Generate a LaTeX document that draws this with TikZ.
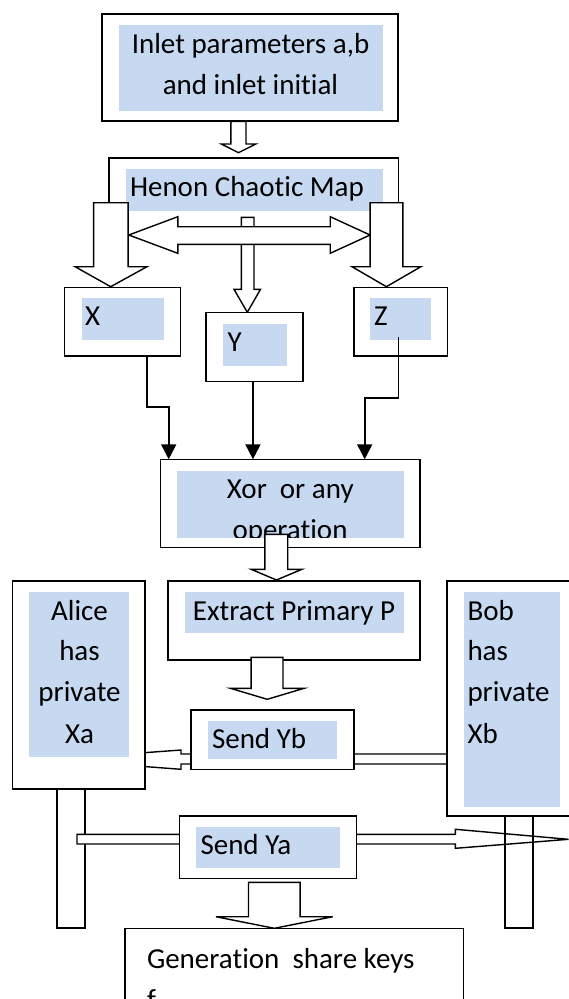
\documentclass[tikz,border=0pt]{standalone}
\usepackage{fontspec}
\setmainfont[Ligatures=NoCommon]{Carlito}
\usetikzlibrary{arrows.meta}
\definecolor{lb}{HTML}{C6D9F1}
\newcommand\hollowdown[8]{\draw[hollow] (#1,#3) -- (#1,#4) -- (#5,#4) -- (#8,#7) -- (#6,#4) -- (#2,#4) -- (#2,#3) -- cycle;}
\begin{document}
\begin{tikzpicture}[x=1pt,y=-1pt,
  box/.style={draw=black,line width=1.5pt,fill=white,inner sep=0pt,outer sep=0pt,rectangle},
  txt/.style={inner sep=0pt,outer sep=0pt,font=\fontsize{29}{41}\selectfont,text=black},
  hollow/.style={draw=black,line width=1.4pt,fill=white,line join=miter},
  conn/.style={draw=black,line width=1.8pt,-{Triangle[width=15pt,length=15pt]}}]
\useasboundingbox (0,0) rectangle (569,999);
\fill[white] (0,0) rectangle (569,999);

% top box
\node[box,minimum width=296pt,minimum height=107pt] (top) at (250,67.5) {};
\fill[lb] (119,25) rectangle (382.8,110.7);
\node[txt,anchor=base] (t1) at (250.5,53) {Inlet parameters a,b};
\node[txt,anchor=base] (t2) at (250.5,94) {and inlet initial};

% arrow to Henon
\hollowdown{230.8}{246}{121.3}{144}{221.3}{255.8}{152.7}{238.5}

% Henon box
\node[box,minimum width=289.5pt,minimum height=77pt] (henon) at (253.65,196.5) {};
\fill[lb] (125.9,169.3) rectangle (382.8,210.7);
\node[txt,anchor=base west] (th) at (130,196.5) {Henon Chaotic Map};

% Y arrow (under double arrow)
\hollowdown{241.3}{254}{217.3}{289.3}{234}{260.5}{312.3}{247.3}
% double arrow
\draw[hollow] (128.8,235) -- (177.8,216.7) -- (177.8,226.7) -- (330.2,226.7) -- (330.2,216.7) -- (370.1,235) -- (330.2,253.3) -- (330.2,244.3) -- (177.8,244.3) -- (177.8,253.3) -- cycle;
% big arrows
\hollowdown{93.6}{128.1}{202.7}{266.7}{75.1}{147}{286.7}{110.7}
\hollowdown{370.1}{402.8}{202.7}{266.7}{352}{420.9}{286.7}{386.4}

% X Y Z
\node[box,minimum width=115.7pt,minimum height=68.7pt] (X) at (122.45,321.65) {};
\fill[lb] (82,298.3) rectangle (164,340);
\node[txt,anchor=base west] (tx) at (85,325.6) {X};
\node[box,minimum width=96.9pt,minimum height=69pt] (Y) at (254.55,347.2) {};
\fill[lb] (223.2,324) rectangle (286.6,366);
\node[txt,anchor=base west] (ty) at (227.5,351.7) {Y};
\node[box,minimum width=93.6pt,minimum height=68.7pt] (Z) at (400.6,321.65) {};
\fill[lb] (370.1,298.3) rectangle (430.7,340);
\node[txt,anchor=base west] (tz) at (374,325.6) {Z};

% Xor box
\node[box,minimum width=259.4pt,minimum height=88.4pt] (xor) at (290.1,503.5) {};
\fill[lb] (177.1,471) rectangle (403.8,537.7);
\begin{scope}
\clip (177.1,471) rectangle (403.8,537.7);
\node[txt,anchor=base] (tx1) at (290.3,498.3) {Xor\ \ or any};
\node[txt,anchor=base] (tx2) at (290,539.3) {operation};
\end{scope}

% connectors
\draw[conn] ([xshift=24.55pt]X.south) -- ++(0,51) -| ([xshift=-121.4pt]xor.north);
\draw[conn] ([xshift=-1.6pt]Y.south) -- ([xshift=-1.6pt]Y.south |- xor.north);
\draw[conn] ([xshift=-2.2pt,yshift=-15.6pt]Z.center) -- ++(0,60.4) -| ([xshift=74.6pt]xor.north);

% arrow xor -> extract
\hollowdown{264.9}{287.7}{534.3}{569.3}{251.1}{301.9}{580}{276.5}

% Extract box
\node[box,minimum width=251.8pt,minimum height=79pt] (ext) at (293.9,620.5) {};
\fill[lb] (185,592.3) rectangle (403.8,633.3);
\node[txt,anchor=base] (te) at (294,620.7) {Extract Primary P};

% arrow extract -> send Yb
\hollowdown{251.1}{283}{657.3}{688.3}{230.4}{304.1}{699.3}{267.25}

% Send Yb arrow to Alice (under boxes)
\draw[hollow] (447,754) -- (181,754) -- (181,750) -- (52,759.5) -- (181,769.3) -- (181,764) -- (447,764) -- cycle;

% Alice box
\node[box,minimum width=132.4pt,minimum height=208pt] (alice) at (78.9,685) {};
\fill[lb] (29,592.3) rectangle (128.8,756.7);
\node[txt,anchor=base] (ta1) at (79.5,620) {Alice};
\node[txt,anchor=base] (ta2) at (79.5,660.7) {has};
\node[txt,anchor=base] (ta3) at (79.5,701.7) {private};
\node[txt,anchor=base] (ta4) at (79.5,743.5) {Xa};

% Bob box
\node[box,minimum width=126pt,minimum height=235pt] (bob) at (510,698.5) {};
\fill[lb] (464.4,592.3) rectangle (559.9,806.7);
\node[txt,anchor=base west] (tb1) at (467.5,620) {Bob};
\node[txt,anchor=base west] (tb2) at (467.5,660.7) {has};
\node[txt,anchor=base west] (tb3) at (467.5,701.7) {private};
\node[txt,anchor=base west] (tb4) at (467.5,743.5) {Xb};

% Alice post
\draw[box] (57,789) rectangle (85,928);
% Send Ya arrow
\draw[hollow] (77,834.3) -- (455.4,834.3) -- (455.4,829.3) -- (568.5,839.3) -- (455.4,848.3) -- (455.4,844) -- (77,844) -- cycle;
% Bob post
\draw[line width=1.5pt] (505,816) rectangle (533,928);

% Send Yb box
\node[box,minimum width=162.6pt,minimum height=59.3pt] (syb) at (272.5,739.65) {};
\fill[lb] (207.9,721) rectangle (337.4,759.3);
\node[txt,anchor=base west] (tsyb) at (212,748.3) {Send Yb};

% Send Ya box
\node[box,minimum width=176.7pt,minimum height=62.3pt] (sya) at (267.95,847.15) {};
\fill[lb] (195.9,826.7) rectangle (340,867.7);
\node[txt,anchor=base west] (tsya) at (200.5,854) {Send Ya};

% arrow to generation
\hollowdown{248.5}{300.1}{882.3}{916.7}{215.9}{332.7}{928.3}{274.3}

% Generation box
\node[box,minimum width=338.5pt,minimum height=82pt] (gen) at (294.45,969.3) {};
\begin{scope}
\clip (125,928) rectangle (464,999);
\node[txt,anchor=base west] (tg1) at (147,968.3) {Generation\ \ share keys};
\node[txt,anchor=base west] (tg2) at (147,1009.3) {f};
\end{scope}
\end{tikzpicture}
\end{document}
